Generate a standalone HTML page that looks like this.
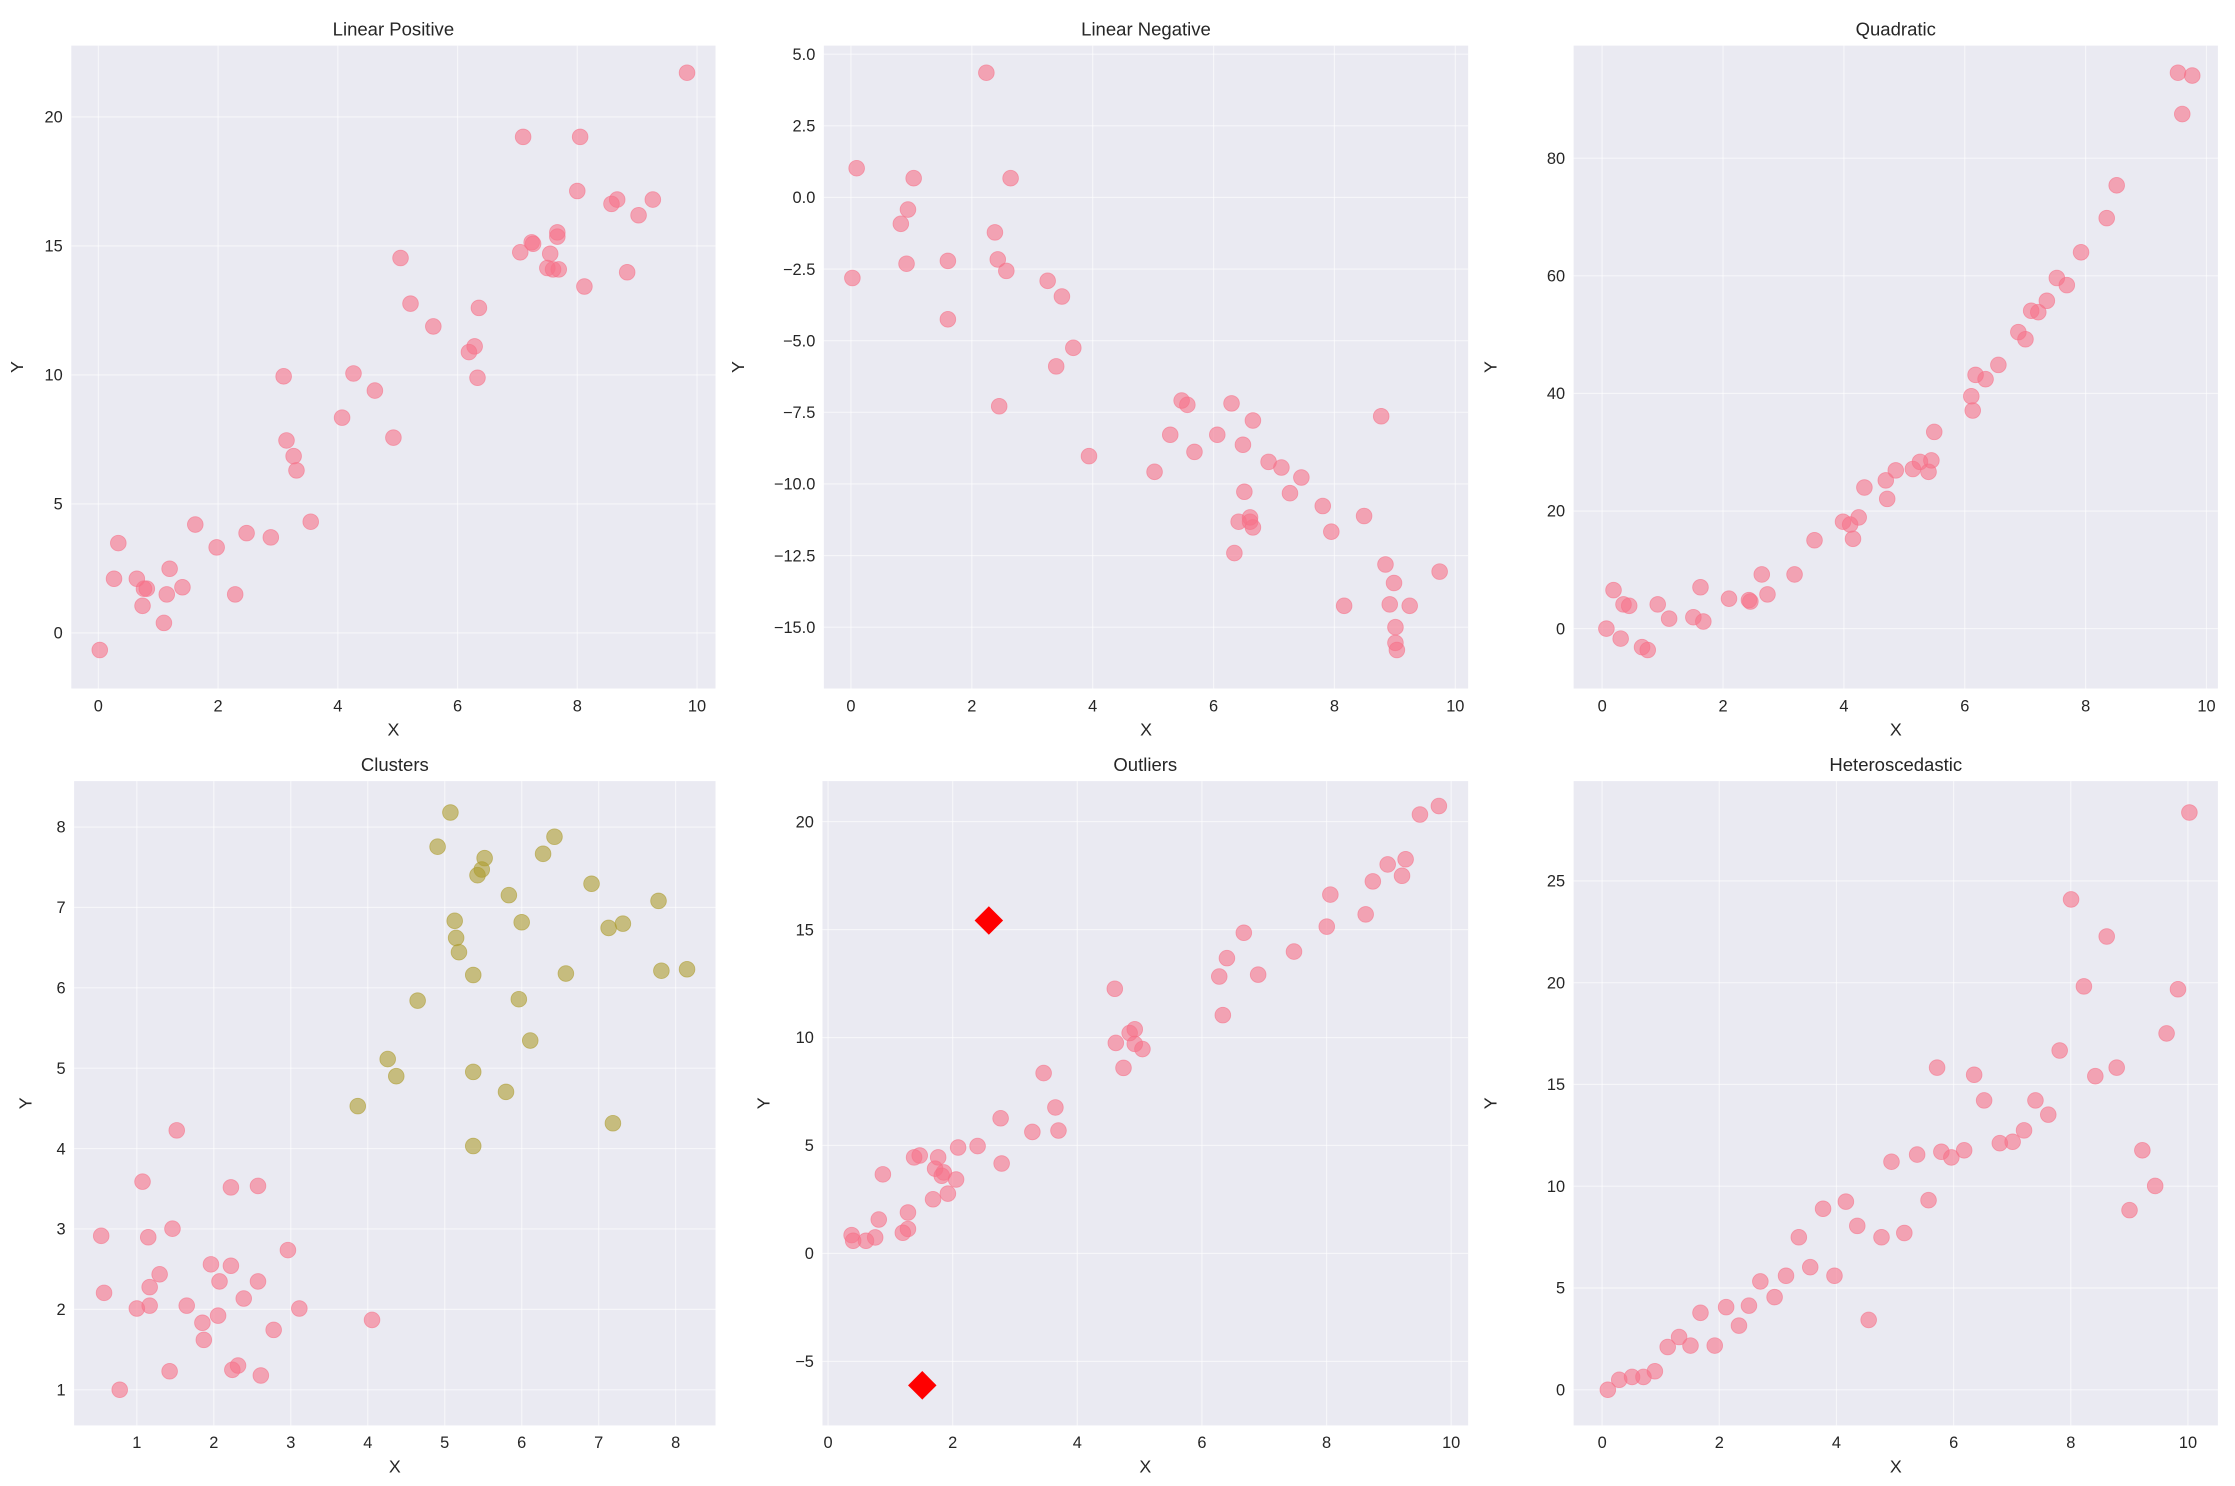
<!DOCTYPE html>
<html><head><meta charset="utf-8"><style>
html,body{margin:0;padding:0;background:#fff}
svg{display:block}
text{font-family:"Liberation Sans",Arial,sans-serif;fill:#262626}
</style></head><body>
<svg id="s" width="2235" height="1486" viewBox="0 0 1568 1042.5" xmlns="http://www.w3.org/2000/svg"></svg>
<script>
const NS="http://www.w3.org/2000/svg",S=document.getElementById('s');
function el(t,a,txt){const e=document.createElementNS(NS,t);for(const k in a)e.setAttribute(k,a[k]);if(txt!=null)e.textContent=txt;S.appendChild(e);return e;}
function fmt(v,d){let s=v.toFixed(d);return s.replace('-','\u2212');}
const mx=zx=>577+(zx-245)*0.3592, my=zy=>545+(zy-70)*0.3304;
const oz=[[302,1043],[305,1055],[330,1055],[348,1048],[355,1010],[363,914],[402,1038],[412,1030],[412,995],[424,878],[435,874],[461,967],[465,902],[471,878],[478,917],[482,910],[490,955],[506,925],[510,857],[548,854],[593,795],[595,891],[655,824],[677,699],[700,772],[706,821],[816,520],[818,635],[833,688],[845,614],[855,606],[855,637],[870,648],[1020,494],[1027,576],[1035,455],[1068,401],[1096,490],[1166,441],[1230,388],[1237,320],[1306,362],[1320,292],[1349,256],[1377,280],[1384,245],[1412,150],[1449,132]];
const P=[
{t:"Linear Positive",b:[50,32,502,483],xt:[0,2,4,6,8,10].map(v=>[69+42*v,""+v]),yt:[0,5,10,15,20].map(v=>[444-18.1*v,""+v]),yl:16,
pts:[[70,456],[80,406],[83,381],[96,406],[100,425],[101,413],[103,413],[115,437],[117,417],[119,399],[128,412],[137,368],[152,384],[165,417],[173,374],[190,377],[199,264],[201,309],[206,320],[208,330],[218,366],[240,293],[248,262],[263,274],[276,307],[281,181],[288,213],[304,229],[329,247],[333,243],[335,265],[336,216],[365,177],[367,96],[373,170],[374,171],[386,178],[388,189],[384,188],[391,163],[391,166],[392,189],[405,134],[407,96],[410,201],[429,143],[433,140],[440,191],[448,151],[458,140],[482,51]]},
{t:"Linear Negative",b:[578,32,1030,483],xt:[0,2,4,6,8,10].map(v=>[597+42.4*v,""+v]),yt:[5,2.5,0,-2.5,-5,-7.5,-10,-12.5,-15].map(v=>[38+(5-v)*20.1,fmt(v,1)]),yl:522,
pts:[[598,195],[601,118],[632,157],[637,147],[636,185],[641,125],[665,183],[665,224],[692,51],[698,163],[700,182],[701,285],[706,190],[709,125],[735,197],[741,257],[745,208],[753,244],[764,320],[810,331],[821,305],[829,281],[833,284],[838,317],[854,305],[864,283],[872,312],[873,345],[877,363],[877,366],[879,370],[879,295],[866,388],[869,366],[890,324],[899,328],[905,346],[913,335],[928,355],[934,373],[943,425],[957,362],[969,292],[972,396],[975,424],[978,409],[979,440],[979,451],[980,456],[989,425],[1010,401]]},
{t:"Quadratic",b:[1104,32,1556,483],xt:[0,2,4,6,8,10].map(v=>[1124+42.4*v,""+v]),yt:[0,20,40,60,80].map(v=>[441-4.125*v,""+v]),yl:1050,
pts:[[1127,441],[1132,414],[1137,448],[1139,424],[1143,425],[1152,454],[1156,456],[1163,424],[1171,434],[1188,433],[1193,412],[1195,436],[1213,420],[1227,421],[1228,422],[1236,403],[1240,417],[1259,403],[1273,379],[1293,366],[1298,368],[1300,378],[1304,363],[1308,342],[1323,337],[1324,350],[1330,330],[1342,329],[1347,324],[1353,331],[1355,323],[1357,303],[1383,278],[1384,288],[1386,263],[1393,266],[1402,256],[1416,233],[1421,238],[1425,218],[1430,219],[1436,211],[1443,195],[1450,200],[1460,177],[1478,153],[1485,130],[1528,51],[1531,80],[1538,53]]},
{t:"Clusters",b:[52,548,502,1000],xt:[1,2,3,4,5,6,7,8].map(v=>[96+54*(v-1),""+v]),yt:[1,2,3,4,5,6,7,8].map(v=>[975-56.4*(v-1),""+v]),yl:22,
pts:[[71,867],[73,907],[84,975],[96,918],[100,829],[104,868],[105,903],[105,916],[112,894],[119,962],[121,862],[124,793],[131,916],[142,928],[143,940],[148,887],[153,923],[154,899],[162,833],[162,888],[163,961],[167,958],[171,911],[181,899],[181,832],[183,965],[192,933],[202,877],[210,918],[261,926]],
pts2:[[251,776],[272,743],[278,755],[293,702],[307,594],[316,570],[319,646],[320,658],[322,668],[332,684],[332,752],[332,804],[335,614],[338,610],[340,602],[357,628],[355,766],[364,701],[366,647],[372,730],[381,599],[389,587],[397,683],[415,620],[427,651],[430,788],[437,648],[462,632],[464,681],[482,680]]},
{t:"Outliers",b:[577,548,1030,1000],xt:[0,2,4,6,8,10].map(v=>[mx(256+121.7*v),""+v]),yt:[-5,0,5,10,15,20].map(v=>[my(1082-45.85*v),fmt(v,0)]),yl:540,
pts:oz.map(([a,b])=>[mx(a),my(b)]),
dia:[[mx(570),my(375)],[mx(440),my(1362)]]},
{t:"Heteroscedastic",b:[1104,548,1556,1000],xt:[0,2,4,6,8,10].map(v=>[1124+41.1*v,""+v]),yt:[0,5,10,15,20,25].map(v=>[975-14.28*v,""+v]),yl:1050,
pts:[[1128,975],[1136,968],[1145,966],[1153,966],[1161,962],[1170,945],[1178,938],[1186,944],[1193,921],[1203,944],[1211,917],[1220,930],[1227,916],[1235,899],[1245,910],[1253,895],[1262,868],[1270,889],[1279,848],[1287,895],[1295,843],[1303,860],[1311,926],[1320,868],[1327,815],[1336,865],[1345,810],[1353,842],[1359,749],[1362,808],[1369,812],[1378,807],[1385,754],[1392,772],[1403,802],[1412,801],[1420,793],[1428,772],[1437,782],[1445,737],[1453,631],[1462,692],[1470,755],[1478,657],[1485,749],[1494,849],[1503,807],[1512,832],[1520,725],[1528,694],[1536,570]]}
];
for(const p of P){
 const [x0,y0,x1,y1]=p.b;
 el('rect',{x:x0,y:y0,width:x1-x0,height:y1-y0,fill:'#eaeaf2'});
 for(const [px,l] of p.xt){el('line',{x1:px,y1:y0,x2:px,y2:y1,stroke:'#fff','stroke-width':0.8,opacity:0.6});
  el('text',{x:px,y:y1+16,'text-anchor':'middle','font-size':11.5},l);}
 for(const [py,l] of p.yt){el('line',{x1:x0,y1:py,x2:x1,y2:py,stroke:'#fff','stroke-width':0.8,opacity:0.6});
  el('text',{x:x0-6,y:py+4,'text-anchor':'end','font-size':11.5},l);}
 el('text',{x:(x0+x1)/2,y:y0-7,'text-anchor':'middle','font-size':13},p.t);
 el('text',{x:(x0+x1)/2,y:y1+33,'text-anchor':'middle','font-size':12.5},'X');
 const yc=(y0+y1)/2;el('text',{x:p.yl,y:yc,'text-anchor':'middle','font-size':12.5,transform:`rotate(-90 ${p.yl} ${yc})`},'Y');
 for(const [x,y] of p.pts)el('circle',{cx:x,cy:y,r:5.5,fill:'#f77189','fill-opacity':0.6,stroke:'#f77189','stroke-opacity':0.6,'stroke-width':0.6});
 if(p.pts2)for(const [x,y] of p.pts2)el('circle',{cx:x,cy:y,r:5.5,fill:'#ae9d31','fill-opacity':0.6,stroke:'#ae9d31','stroke-opacity':0.6,'stroke-width':0.6});
 if(p.dia)for(const [x,y] of p.dia)el('polygon',{points:`${x},${y-10} ${x+10},${y} ${x},${y+10} ${x-10},${y}`,fill:'#ff0000'});
}
</script>
</body></html>
